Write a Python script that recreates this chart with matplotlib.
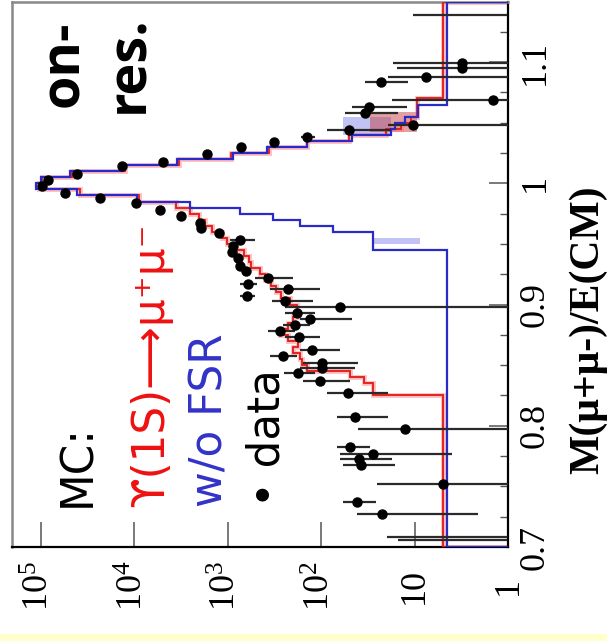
import numpy as np
import matplotlib
matplotlib.use("Agg")
import matplotlib.pyplot as plt
from matplotlib.patches import Rectangle
from matplotlib.ticker import LogLocator, NullFormatter, MultipleLocator

# ---------------- data ----------------
# MC histograms, 90 bins of width 0.005 in M(mu+mu-)/E(CM) from 0.700 to 1.150
red_fsr = [
    4.9, 4.9, 4.9, 4.9, 4.9, 4.9, 4.9, 4.9, 4.9, 4.9,
    4.9, 4.9, 4.9, 4.9, 4.9, 4.9, 4.9, 4.9, 4.9, 4.9,
    4.9, 4.9, 4.9, 4.9, 4.9, 28, 28, 35, 49, 141,
    158, 166, 200, 178, 224, 275, 224, 200, 182, 182,
    214, 269, 302, 339, 398, 447, 562, 589, 661, 832,
    1020, 1150, 1450, 1740, 2000, 2510, 3550, 8900, 38000, 105000,
    95500, 45700, 12600, 3310, 912, 363, 141, 50, 20, 14,
    11, 9.3, 9.3, 9.3, 4.9, 4.9, 4.9, 4.9, 4.9, 4.9,
    4.9, 4.9, 4.9, 4.9, 4.9, 4.9, 4.9, 4.9, 4.9, 4.9,
]
blue_nofsr = [
    4.5, 4.5, 4.5, 4.5, 4.5, 4.5, 4.5, 4.5, 4.5, 4.5,
    4.5, 4.5, 4.5, 4.5, 4.5, 4.5, 4.5, 4.5, 4.5, 4.5,
    4.5, 4.5, 4.5, 4.5, 4.5, 4.5, 4.5, 4.5, 4.5, 4.5,
    4.5, 4.5, 4.5, 4.5, 4.5, 4.5, 4.5, 4.5, 4.5, 4.5,
    4.5, 4.5, 4.5, 4.5, 4.5, 4.5, 4.5, 4.5, 4.5, 27.5,
    27.5, 27.5, 74, 166, 324, 741, 2510, 9330, 40700, 112000,
    100000, 47900, 13200, 3470, 871, 380, 141, 47, 18, 16,
    12.6, 9.1, 9.1, 4.5, 4.5, 4.5, 4.5, 4.5, 4.5, 4.5,
    4.5, 4.5, 4.5, 4.5, 4.5, 4.5, 4.5, 4.5, 4.5, 4.5,
]
hist_range = [0.700, 1.150]

# MC uncertainty boxes (mass low, mass high, count low, count high)
blue_box_mass_lo = [1.040, 0.950]
blue_box_mass_hi = [1.055, 0.955]
blue_box_cnt_lo = [18, 8.7]
blue_box_cnt_hi = [58, 27.5]
red_box_mass_lo = [1.042]
red_box_mass_hi = [1.059]
red_box_cnt_lo = [9.4]
red_box_cnt_hi = [30]

# data points
data_mass = [1.139, 1.099, 1.095, 1.088, 1.0835, 1.069, 1.063, 1.058, 1.048, 1.044,
             1.038, 1.034, 1.030, 1.024, 1.018, 1.014, 1.008, 1.003, 0.998, 0.992,
             0.988, 0.9835, 0.978, 0.973, 0.967, 0.963, 0.959, 0.953, 0.948, 0.943,
             0.938, 0.932, 0.928, 0.922, 0.917, 0.913, 0.907, 0.903, 0.898, 0.893,
             0.888, 0.8835, 0.8785, 0.8736, 0.8628, 0.8579, 0.8521, 0.8479, 0.8438, 0.8372,
             0.8273, 0.8074, 0.7975, 0.7826, 0.7769, 0.7727, 0.7678, 0.7521, 0.7372, 0.7273,
             0.7085, 0.7055]
data_count = [0.9, 3.1, 3.1, 7.6, 23, 1.45, 31, 34, 10.4, 50,
              141, 316, 724, 1660, 4900, 13500, 40700, 83200, 95500, 55000,
              23400, 9550, 5250, 3160, 1950, 1900, 1230, 740, 870, 890,
              776, 740, 630, 370, 600, 224, 617, 245, 63, 182,
              132, 190, 275, 174, 126, 255, 98, 98, 177, 102,
              52, 43, 12.6, 49, 27.6, 39, 37, 5.0, 41, 22.4,
              0.9, 0.9]
data_err_lo = [0.4, 2.6, 2.6, 7.1, 11.3, 0.95, 19, 19, 9.9, 32,
               26, 25, 30, 45, 80, 130, 250, 300, 300, 250,
               160, 100, 80, 60, 50, 50, 40, 230, 60, 60,
               60, 60, 60, 170, 120, 122, 107, 122, 62.5, 67,
               85, 58, 85, 72, 63, 75, 58, 55, 60, 53,
               33, 24, 12.1, 19, 23.6, 21.6, 21, 4.5, 15, 20.3,
               0.4, 0.4]
data_err_hi = [9.5, 14, 12.4, 11.4, 11, 16, 16, 21, 8.6, 37,
               24, 25, 30, 45, 80, 130, 250, 300, 300, 250,
               160, 100, 80, 60, 50, 50, 40, 195, 60, 60,
               60, 60, 60, 140, 140, 131, 123, 86, 182, 63,
               34, 67, 95, 71, 40, 100, 57, 68, 70, 53,
               35, 24, 27.4, 18, 35.4, 24, 21, 20, 17, 18.6,
               19, 14]

count_ticks = [1e5, 1e4, 1e3, 1e2, 10, 1]
count_tick_labels = [r"$\mathregular{10^{5}}$", r"$\mathregular{10^{4}}$",
                     r"$\mathregular{10^{3}}$", r"$\mathregular{10^{2}}$", "10", "1"]
mass_ticks = [0.7, 0.8, 0.9, 1.0, 1.1]
mass_tick_labels = ["0.7", "0.8", "0.9", "1", "1.1"]

# ---------------- figure ----------------
W, H = 607, 641
fig = plt.figure(figsize=(W / 100, H / 100), dpi=100)
fig.patch.set_facecolor("white")
fig.add_artist(Rectangle((0, 0), 1, 7 / H, transform=fig.transFigure,
                         facecolor="#FFFFCC", edgecolor="none", zorder=0))

ax = fig.add_axes([12 / W, 94 / H, 496 / W, 545.5 / H])
ax.set_xscale("log")
ax.set_xlim(2.02e5, 1)
ax.set_ylim(0.7, 1.15)

edges = np.linspace(hist_range[0], hist_range[1], len(blue_nofsr) + 1)

for m0, m1, c0, c1 in zip(blue_box_mass_lo, blue_box_mass_hi, blue_box_cnt_lo, blue_box_cnt_hi):
    ax.fill_betweenx([m0, m1], c0, c1, color="#5050e0", alpha=0.35, lw=0, zorder=1)
for m0, m1, c0, c1 in zip(red_box_mass_lo, red_box_mass_hi, red_box_cnt_lo, red_box_cnt_hi):
    ax.fill_betweenx([m0, m1], c0, c1, color="#c03030", alpha=0.45, lw=0, zorder=1)

ax.stairs(red_fsr, edges, orientation="horizontal", baseline=0.1,
          color="#ff7070", lw=3.5, alpha=0.45, zorder=2)
ax.stairs(red_fsr, edges, orientation="horizontal", baseline=0.1,
          color="#e01818", lw=1.3, zorder=3)
ax.stairs(blue_nofsr, edges, orientation="horizontal", baseline=0.1,
          color="#2a2ac8", lw=1.6, zorder=4)

ax.errorbar(data_count, data_mass, xerr=[data_err_lo, data_err_hi], fmt="o",
            color="black", ecolor="#2a2a2a", elinewidth=1.6, ms=6.5,
            capsize=0, zorder=5)

# ticks
ax.xaxis.set_ticks_position("bottom")
ax.yaxis.set_ticks_position("right")
ax.set_xticks(count_ticks, count_tick_labels)
ax.xaxis.set_minor_locator(LogLocator(base=10, subs=np.arange(2, 10)))
ax.xaxis.set_minor_formatter(NullFormatter())
ax.set_yticks(mass_ticks, mass_tick_labels)
ax.yaxis.set_minor_locator(MultipleLocator(0.025))

ax.tick_params(axis="x", which="major", direction="in", length=18, width=1.1,
               color="#555555", pad=28, labelsize=26, labelrotation=90)
ax.tick_params(axis="x", which="minor", direction="in", length=8.5, width=1.0,
               color="#555555")
ax.tick_params(axis="y", which="major", direction="in", length=14, width=1.1,
               color="#555555", pad=8, labelsize=26, labelrotation=90,
               right=True, left=False, labelright=True, labelleft=False)
ax.tick_params(axis="y", which="minor", direction="in", length=6, width=1.0,
               color="#555555", right=True, left=False)
for lbl in ax.get_xticklabels():
    lbl.set_verticalalignment("center")
    lbl.set_family("Liberation Serif")
for lbl in ax.get_yticklabels():
    lbl.set_verticalalignment("center")
    lbl.set_family("Liberation Serif")

for s in ("top", "left"):
    ax.spines[s].set_color("#888888")
    ax.spines[s].set_linewidth(1.8)
for s in ("bottom", "right"):
    ax.spines[s].set_color("black")
    ax.spines[s].set_linewidth(1.6)

# axis title (rotated)
fig.text(588 / W, 1 - 330 / H, "M(μ+μ-)/E(CM)", rotation=90, ha="center", va="center",
         family="Liberation Serif", weight="bold", fontsize=30)

# annotations
def rtext(x, y, s, **kw):
    fig.text(x / W, 1 - y / H, s, rotation=90, rotation_mode="anchor",
             ha="left", va="baseline", **kw)

rtext(78, 107, "on-", fontsize=39, weight="bold", family="Open Sans", color="black")
rtext(143, 113, "res.", fontsize=39, weight="bold", family="Open Sans", color="black")
rtext(90, 507, "MC:", fontsize=31.5, family="DejaVu Sans", color="black")
rtext(163, 507, "ϒ(1S)⟶μ⁺μ⁻", fontsize=31.5,
      family=["DejaVu Sans", "DejaVu Serif", "Noto Sans"], color="#ee1111")
rtext(222, 507, "w/o FSR", fontsize=31.5, family="DejaVu Sans", color="#3232c8")
rtext(280, 507, "• data", fontsize=31.5, family="DejaVu Sans", color="black")

fig.savefig("out.png", dpi=100)
